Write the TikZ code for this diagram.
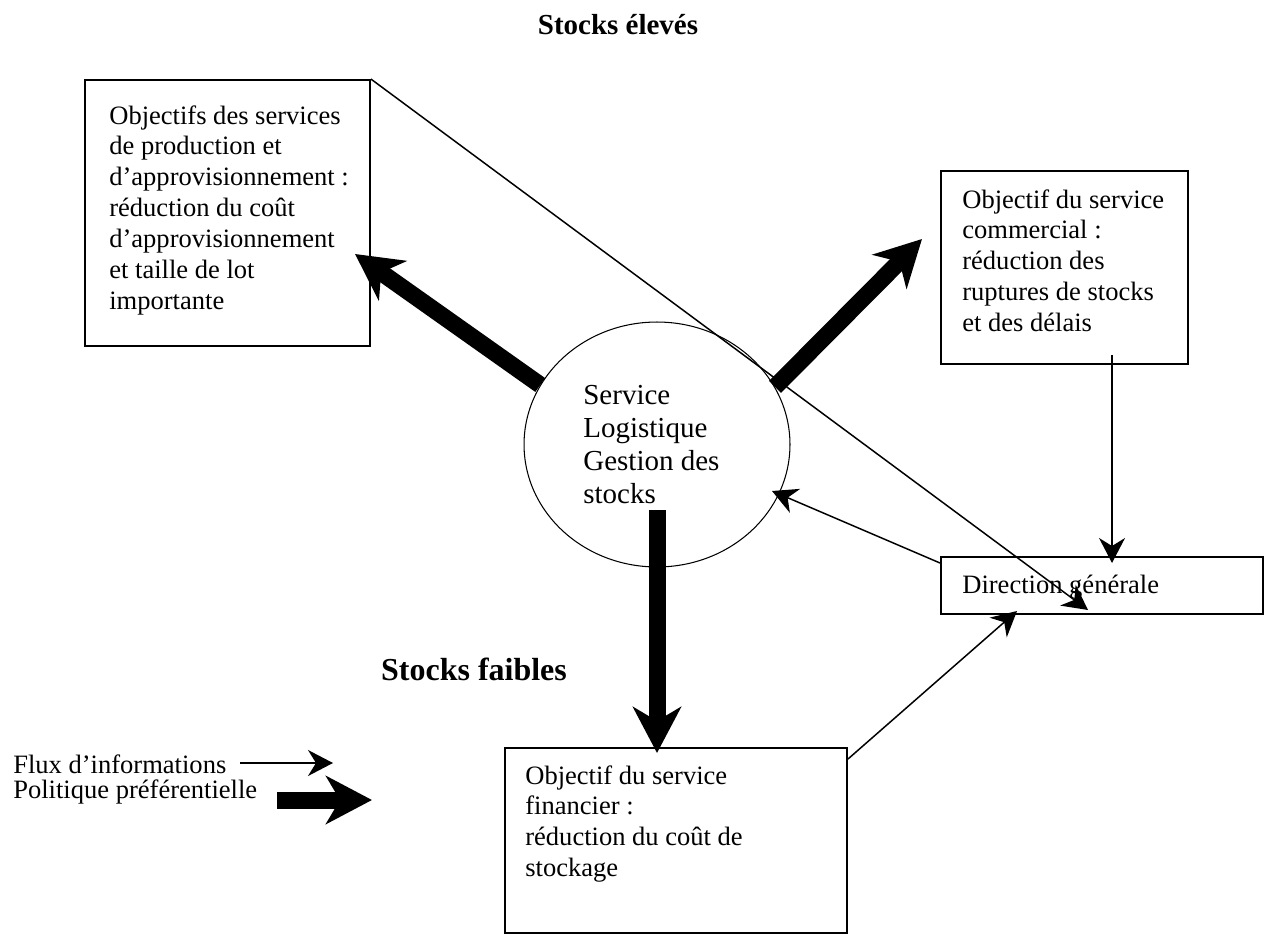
\documentclass[tikz,border=0pt]{standalone}
\usepackage{fontspec}
\setmainfont{Liberation Serif}
\usetikzlibrary{shapes.geometric, arrows.meta, positioning, calc}

\begin{document}
\begin{tikzpicture}[
  x=0.02cm, y=-0.02cm,
  objbox/.style={rectangle, draw, line width=1.1pt, inner sep=0pt},
  service/.style={ellipse, draw, line width=0.6pt, minimum width=5.32cm, minimum height=4.9cm, inner sep=0pt},
  txt/.style={anchor=north west, inner sep=0pt, align=left, font=\fontsize{15.1}{17.6}\selectfont},
  info/.style={-{Stealth[length=0.5cm, width=0.52cm, inset=0.16cm]}, line width=0.85pt},
  pref/.style={-{Stealth[length=0.92cm, width=0.96cm, inset=0.28cm]}, line width=0.34cm}
]
\useasboundingbox (0,0) rectangle (1266,935);

% Titles
\node[font=\fontsize{16.5}{19}\selectfont\bfseries, anchor=base] (high) at (618,35) {Stocks élevés};
\node[font=\fontsize{18.2}{21}\selectfont\bfseries, anchor=base west] (low) at (375,680) {Stocks faibles};

% Nodes
\node[objbox, minimum width=5.7cm, minimum height=5.32cm] (prod) at (227.5,213) {};
\node[objbox, minimum width=4.94cm, minimum height=3.86cm] (com) at (1064.5,267.5) {};
\node[objbox, minimum width=6.44cm, minimum height=1.14cm] (dir) at (1102,585.5) {};
\node[objbox, minimum width=6.84cm, minimum height=3.7cm] (fin) at (676,840.5) {};
\node[service] (logi) at (657,444.5) {};

% Texts
\node[txt] (prodtxt) at (109,105) {Objectifs des services\\de production et\\d’approvisionnement :\\réduction du coût\\d’approvisionnement\\et taille de lot\\importante};
\node[txt] (comtxt) at (962,189) {Objectif du service\\commercial :\\réduction des\\ruptures de stocks\\et des délais};
\node[txt] (fintxt) at (525,765) {Objectif du service\\financier :\\réduction du coût de\\stockage};
\node[txt, font=\fontsize{16.5}{18.8}\selectfont] (logitxt) at (583,385) {Service\\Logistique\\Gestion des\\stocks};
\node[txt, anchor=base west] (dirtxt) at (962,593) {Direction générale};

% Legend
\node[txt, anchor=base west] (fluxtxt) at (13,773) {Flux d’informations};
\node[txt, anchor=base west] (poltxt) at (13,798) {Politique préférentielle};

% Free ends
\coordinate (nwtip) at (355,254);
\coordinate (netip) at (922,239);
\coordinate (dnstart) at (657,510);
\coordinate (dntip) at (657,753);
\coordinate (backtip) at (772,491);
\coordinate (comstart) at (1112,355);
\coordinate (comtip) at (1112,563);
\coordinate (longtip) at (1088,610);
\coordinate (fintip) at (1017,611);
\coordinate (fluxa) at (240,763);
\coordinate (fluxb) at (333,763);
\coordinate (pola) at (277,800);
\coordinate (polb) at (372,800);

% Preferred policy
\draw[pref] (logi.153) -- (nwtip);
\draw[pref] (logi.26) -- (netip);
\draw[pref] (dnstart) -- (dntip);

% Information flows
\draw[info] ($(dir.north west)+(0,7)$) -- (backtip);
\draw[info] (comstart) -- (comtip);
\draw[info] (prod.north east) -- (longtip);
\draw[info] ($(fin.north east)+(0,12)$) -- (fintip);

% Legend arrows
\draw[info] (fluxa) -- (fluxb);
\draw[pref] (pola) -- (polb);

\end{tikzpicture}
\end{document}
